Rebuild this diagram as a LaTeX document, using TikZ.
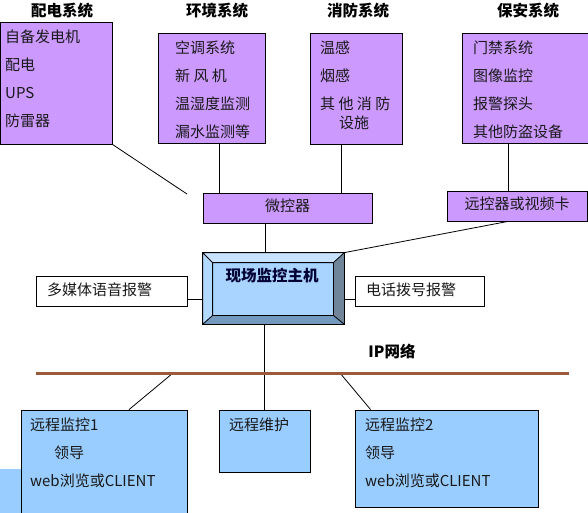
\documentclass[tikz,border=0pt]{standalone}
\usepackage{fontspec}
\setmainfont{Noto Sans CJK SC}
\usetikzlibrary{calc}
\definecolor{zi}{HTML}{CC99FF}
\definecolor{lan}{HTML}{99CCFF}
\definecolor{zong}{HTML}{9C5A3C}
\tikzset {
  zibox/.style={draw,fill=zi,line width=.8pt,inner sep=0pt},
  lanbox/.style={draw,fill=lan,line width=.8pt,inner sep=0pt},
  baibox/.style={draw,fill=white,line width=.8pt,inner sep=0pt},
  wz/.style={font=\fontsize{15}{16}\selectfont,inner sep=0pt,text height=.85em,text depth=.1em,text=black!90},
  bt/.style={wz,font=\fontsize{15.5}{17}\selectfont\bfseries,text=black},
  lx/.style={line width=.8pt}
}

\begin{document}
\begin{tikzpicture}[x=1pt,y=-1pt]
\useasboundingbox (0,0) rectangle (588,512);
\node[bt] (tpd) at (62,13) {配电系统};
\node[bt] (thj) at (217,13) {环境系统};
\node[bt] (txf) at (358,13) {消防系统};
\node[bt] (tba) at (528,13) {保安系统};

\node[zibox,minimum width=112,minimum height=122] (pd) at (56,83) {};
\node[zibox,minimum width=107,minimum height=110] (hj) at (211.5,88) {};
\node[zibox,minimum width=92,minimum height=111] (xf) at (356,88.5) {};
\node[zibox,minimum width=130,minimum height=110] (ba) at (527,88) {};
\foreach \t [count=\i] in {自备发电机,配电,UPS,防雷器}
  \node[wz,anchor=west] (pd\i) at (5,11+28*\i) {\t};
\foreach \t [count=\i] in {空调系统,新\ 风\ 机,温湿度监测,漏水监测等}
  \node[wz,anchor=west] (hj\i) at (175,22+28*\i) {\t};
\foreach \t [count=\i] in {温感,烟感,其\ 他\ 消\ 防}
  \node[wz,anchor=west] (xf\i) at (320,22+28*\i) {\t};
\node[wz,anchor=west] (xf4) at (339,125) {设施};
\foreach \t [count=\i] in {门禁系统,图像监控,报警探头,其他防盗设备}
  \node[wz,anchor=west] (ba\i) at (473,22+28*\i) {\t};

\node[zibox,minimum width=169,minimum height=30,wz] (wk) at (287.5,208) {微控器};
\node[zibox,minimum width=140,minimum height=30,wz] (yk) at (517,206) {远控器或视频卡};

\node[draw,fill=lan!85!white,line width=.8pt,minimum width=141,minimum height=71] (host) at (273.5,288.5) {};
\coordinate (h1) at ($(host.north west)+(10,10)$);
\coordinate (h2) at ($(host.north east)+(-11,10)$);
\coordinate (h3) at ($(host.south east)+(-11,-9)$);
\coordinate (h4) at ($(host.south west)+(10,-9)$);
\fill[lan!55!white] (host.north west) -- (host.north east) -- (h2) -- (h1) -- cycle;
\fill[lan!75!white] (host.north west) -- (h1) -- (h4) -- (host.south west) -- cycle;
\fill[lan!50!black!80] (host.north east) -- (h2) -- (h3) -- (host.south east) -- cycle;
\fill[lan!75!black] (host.south west) -- (h4) -- (h3) -- (host.south east) -- cycle;
\draw[lx] (host.north west) rectangle (host.south east) (h1) rectangle (h3)
  (host.north west) -- (h1) (host.north east) -- (h2)
  (host.south east) -- (h3) (host.south west) -- (h4);
\node[bt,text=black!80!blue] (hostt) at (272,278) {现场监控主机};

\node[baibox,minimum width=151,minimum height=30] (dmt) at (111.5,291) {};
\node[wz,anchor=west] (dmtt) at (47,292) {多媒体语音报警};
\node[baibox,minimum width=129,minimum height=30] (dh) at (419.5,291) {};
\node[wz,anchor=west] (dht) at (366,292) {电话拨号报警};

\node[bt] (ip) at (392,354) {IP网络};

\fill[lan] (0,469) rectangle (22,515);
\node[lanbox,minimum width=166,minimum height=105] (yc1) at (104,462.5) {};
\node[lanbox,minimum width=91,minimum height=62] (wh) at (264.5,441) {};
\node[lanbox,minimum width=183,minimum height=97] (yc2) at (446.5,458.5) {};
\node[wz,anchor=west] (yc1a) at (30,427) {远程监控1};
\node[wz,anchor=west] (yc1b) at (54,455) {领导};
\node[wz,anchor=west] (yc1c) at (30,483) {web浏览或CLIENT};
\node[wz,anchor=west] (wht) at (229,427) {远程维护};
\node[wz,anchor=west] (yc2a) at (365,427) {远程监控2};
\node[wz,anchor=west] (yc2b) at (365,455) {领导};
\node[wz,anchor=west] (yc2c) at (365,483) {web浏览或CLIENT};

\coordinate (pdend) at (187,194);
\coordinate (busl) at (36,373);
\coordinate (busr) at (569,373);
\coordinate (tap1) at (173,373);
\coordinate (tap2) at (340,373);
\draw[lx] (pd.south east) -- (pdend);
\draw[lx] ([xshift=7.5pt]hj.south) -- ([xshift=7.5pt]hj.south |- wk.north);
\draw[lx] ([xshift=-15pt]xf.south) -- ([xshift=-15pt]xf.south |- wk.north);
\draw[lx] ([xshift=-19pt]ba.south) -- ([xshift=-19pt]ba.south |- yk.north);
\draw[lx] ([xshift=-22.5pt]wk.south) -- ([xshift=-22.5pt]wk.south |- host.north);
\draw[lx] ([xshift=-9pt]yk.south) -- (host.north east);
\draw[lx] ([yshift=-8pt]dmt.east) -- ([yshift=-8pt]dmt.east -| host.west);
\draw[lx] ([yshift=-8pt]dh.west) -- ([yshift=-8pt]dh.west -| host.east);
\draw[lx] (wh.north |- host.south) -- (wh.north);
\draw[lx] (tap1) -- ([xshift=25pt]yc1.north);
\draw[lx] (tap2) -- ([xshift=16pt]yc2.north west);
\draw[zong,line width=3pt] (busl) -- (busr);
\end{tikzpicture}
\end{document}
